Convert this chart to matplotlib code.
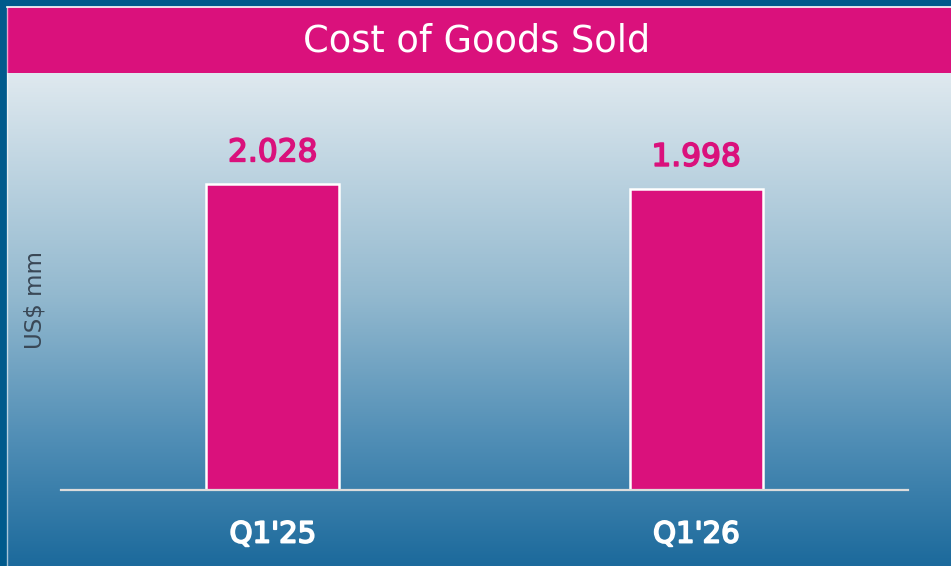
import numpy as np
import matplotlib
import matplotlib.pyplot as plt
import matplotlib.patheffects as pe
from matplotlib.colors import LinearSegmentedColormap
from matplotlib.patches import Rectangle

matplotlib.use('Agg')

# chart data
categories = ["Q1'25", "Q1'26"]
values = [2.028, 1.998]
value_labels = ["2.028", "1.998"]
title = "Cost of Goods Sold"
y_label = "US$ mm"

MAGENTA = '#da117c'
BORDER = '#005a8c'
W, H = 951, 566


def px_x(x):
    return x / W


def px_y(y):
    # pixel y from top -> figure fraction from bottom
    return 1 - y / H


def thicken(color, lw=1.1):
    # regular weight + same-colour stroke gives a medium/semibold look
    return [pe.withStroke(linewidth=lw, foreground=color)]


fig = plt.figure(figsize=(W / 100, H / 100), dpi=100)
fig.patch.set_facecolor(BORDER)

# gradient background panel
bg = fig.add_axes([px_x(7), 0, px_x(W - 7), px_y(73)])
grad_cmap = LinearSegmentedColormap.from_list(
    'panel', [(0.0, '#dfe9ef'), (0.45, '#93b9cf'), (0.75, '#4f8db5'), (1.0, '#1c6a9c')])
grad = np.linspace(0, 1, 256).reshape(-1, 1)
bg.imshow(grad, aspect='auto', cmap=grad_cmap, extent=[0, 1, 0, 1], origin='upper')
bg.set_axis_off()

# title bar with thin white outline on top/left
fig.patches.append(Rectangle((px_x(7), px_y(73)), px_x(W - 7), px_y(7) - px_y(73),
                             transform=fig.transFigure, facecolor=MAGENTA, edgecolor='none'))
fig.lines.append(plt.Line2D([px_x(7), 1], [px_y(7), px_y(7)], transform=fig.transFigure,
                            color='white', lw=1.2))
fig.lines.append(plt.Line2D([px_x(7), px_x(7)], [0, px_y(7)], transform=fig.transFigure,
                            color='white', lw=1.0, alpha=0.6))
fig.text(px_x(477), px_y(41), title, color='white', fontsize=26.5, ha='center', va='center',
         family='DejaVu Sans')

# main bar axes
ax = fig.add_axes([px_x(61), px_y(490), px_x(908 - 61), px_y(73) - px_y(490)])
ax.patch.set_alpha(0)
x = np.arange(len(categories))
bars = ax.bar(x, values, width=0.314, color=MAGENTA, edgecolor='white', linewidth=1.8, zorder=2)
ax.set_xlim(-0.5, 1.5)
ax.set_ylim(0, 2.028 * 417 / 306)

for side in ['top', 'right', 'left']:
    ax.spines[side].set_visible(False)
ax.spines['bottom'].set_color('#dcdcdc')
ax.spines['bottom'].set_linewidth(1.6)
ax.spines['bottom'].set_zorder(3)
ax.set_yticks([])
ax.set_xticks(x)
ax.set_xticklabels(categories, color='white', fontsize=21, family='DejaVu Sans')
for lbl in ax.get_xticklabels():
    lbl.set_path_effects(thicken('white', 1.3))
ax.tick_params(axis='x', length=0, pad=22)

texts = ax.bar_label(bars, labels=value_labels, padding=12, color=MAGENTA, fontsize=22.5,
                     family='DejaVu Sans')
for t in texts:
    t.set_path_effects(thicken(MAGENTA, 1.2))

fig.text(px_x(35), px_y(300), y_label, rotation=90, color='#3a4856', fontsize=16.5,
         ha='center', va='center', family='DejaVu Sans')

fig.savefig('out.png', dpi=100, facecolor=fig.get_facecolor())
